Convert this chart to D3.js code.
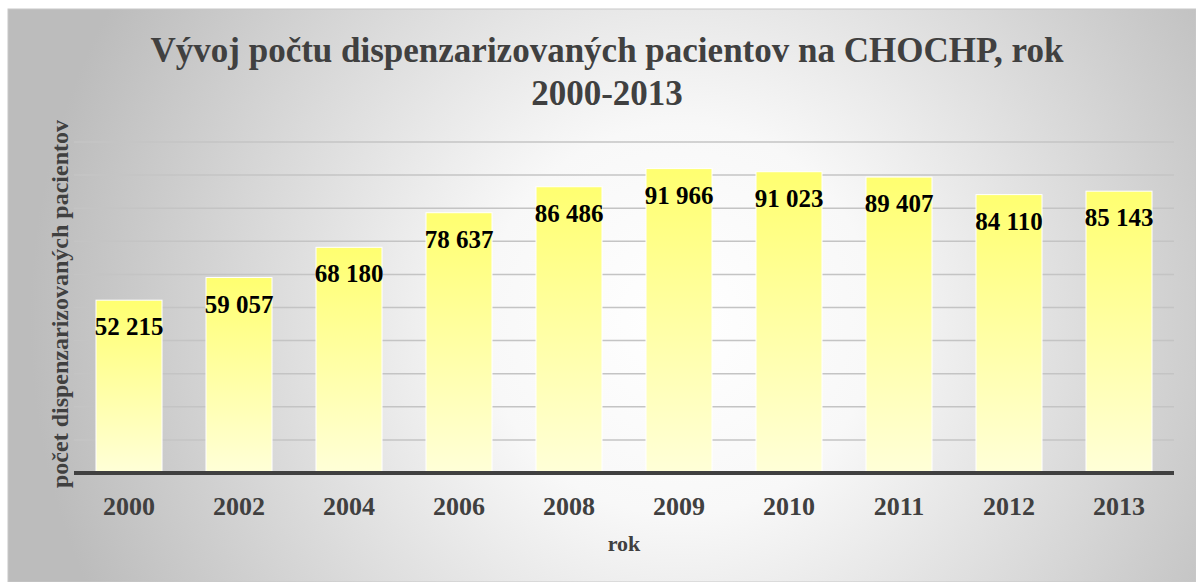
<!DOCTYPE html>
<html>
<head>
<meta charset="utf-8">
<script src="https://cdn.jsdelivr.net/npm/d3@7"></script>
<style>
    body { margin: 0; background: #ffffff; }
    svg text { font-family: "Liberation Serif", "Times New Roman", serif; font-weight: bold; }
</style>
</head>
<body>
<div id="chart"></div>
<script>
// data
const years = ["2000", "2002", "2004", "2006", "2008", "2009", "2010", "2011", "2012", "2013"];
const patients = [52215, 59057, 68180, 78637, 86486, 91966, 91023, 89407, 84110, 85143];
const gridTicks = [10000, 20000, 30000, 40000, 50000, 60000, 70000, 80000, 90000, 100000];
const titleLines = ["Vývoj počtu dispenzarizovaných pacientov na CHOCHP, rok", "2000-2013"];

function fmt(v) {
    return d3.format(",")(v).replace(/,/g, " ");
}

function barchart() {
    const w = 1196;
    const h = 582;
    const left = 74, right = 1174, top = 142, bottom = 473;

    const svg = d3.select("#chart").append("svg")
                    .attr("width", w)
                    .attr("height", h);

    const defs = svg.append("defs");

    // background gradient
    const bg = defs.append("radialGradient")
                    .attr("id", "bg")
                    .attr("gradientUnits", "userSpaceOnUse")
                    .attr("cx", 680).attr("cy", 320).attr("r", 650);
    bg.append("stop").attr("offset", "0%").attr("stop-color", "#ffffff");
    bg.append("stop").attr("offset", "30%").attr("stop-color", "#f8f8f8");
    bg.append("stop").attr("offset", "100%").attr("stop-color", "#bcbcbc");

    // bar gradient
    const bar = defs.append("linearGradient")
                    .attr("id", "bar")
                    .attr("x1", 0).attr("y1", 0).attr("x2", 0).attr("y2", 1);
    bar.append("stop").attr("offset", "0%").attr("stop-color", "#ffff70");
    bar.append("stop").attr("offset", "100%").attr("stop-color", "#ffffd8");

    svg.append("rect")
        .attr("x", 8).attr("y", 9)
        .attr("width", w - 8).attr("height", h - 9)
        .attr("fill", "url(#bg)")
        .attr("stroke", "#c8c8c8")
        .attr("stroke-width", 1);

    const xScale = d3.scaleBand()
                .domain(years)
                .range([left, right])
                .paddingInner(0.4)
                .paddingOuter(0.2);

    const yScale = d3.scaleLinear()
                .domain([0, 100000])
                .range([bottom, top]);

    // gridlines
    svg.append("g")
        .selectAll("line")
        .data(gridTicks)
        .enter()
        .append("line")
        .attr("x1", left).attr("x2", right)
        .attr("y1", d => yScale(d)).attr("y2", d => yScale(d))
        .attr("stroke", "#c4c4c4")
        .attr("stroke-width", 1.5);

    // bars
    svg.append("g")
        .selectAll("rect")
        .data(patients)
        .enter()
        .append("rect")
        .attr("x", (d, i) => xScale(years[i]))
        .attr("y", d => yScale(d))
        .attr("width", xScale.bandwidth())
        .attr("height", d => bottom - yScale(d))
        .attr("fill", "url(#bar)")
        .attr("stroke", "#ffffff")
        .attr("stroke-width", 1);

    // value labels
    svg.append("g")
        .selectAll("text")
        .data(patients)
        .enter()
        .append("text")
        .attr("x", (d, i) => xScale(years[i]) + xScale.bandwidth() / 2)
        .attr("y", d => yScale(d) + 35)
        .attr("text-anchor", "middle")
        .attr("fill", "#000000")
        .style("font-size", "25px")
        .text(d => fmt(d));

    // x axis
    const xAxis = svg.append("g")
        .attr("transform", "translate(0," + bottom + ")")
        .call(d3.axisBottom(xScale).tickSize(0).tickPadding(0));
    xAxis.select(".domain").remove();
    xAxis.selectAll("text")
        .attr("dy", null)
        .attr("y", 42)
        .attr("fill", "#404040")
        .style("font-size", "26px")
        .style("font-family", "'Liberation Serif', serif")
        .style("font-weight", "bold");

    svg.append("line")
        .attr("x1", left).attr("x2", right)
        .attr("y1", bottom).attr("y2", bottom)
        .attr("stroke", "#404040")
        .attr("stroke-width", 4);

    // axis titles
    svg.append("text")
        .attr("text-anchor", "middle")
        .attr("x", (left + right) / 2)
        .attr("y", 551)
        .attr("fill", "#404040")
        .style("font-size", "22px")
        .text("rok");

    svg.append("text")
        .attr("text-anchor", "middle")
        .attr("transform", "translate(68,304) rotate(-90)")
        .attr("fill", "#404040")
        .style("font-size", "24px")
        .text("počet dispenzarizovaných pacientov");

    // title
    svg.append("g")
        .selectAll("text")
        .data(titleLines)
        .enter()
        .append("text")
        .attr("text-anchor", "middle")
        .attr("x", 607)
        .attr("y", (d, i) => 62 + i * 43)
        .attr("fill", "#404040")
        .style("font-size", "35px")
        .text(d => d);
}

window.onload = barchart();
</script>
</body>
</html>
